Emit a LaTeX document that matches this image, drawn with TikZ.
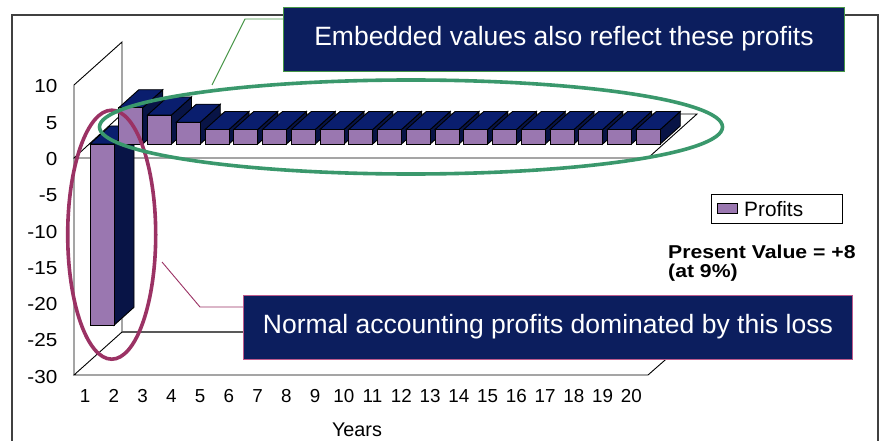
\documentclass[tikz,border=0pt]{standalone}
\usepackage{fontspec}
\setmainfont{Liberation Sans}
\usetikzlibrary{shapes.geometric}

\definecolor{calloutnavy}{RGB}{12,30,94}
\definecolor{barpurple}{RGB}{154,119,176}
\definecolor{bartopnavy}{RGB}{10,30,110}
\definecolor{barsidenavy}{RGB}{8,20,70}
\definecolor{ringgreen}{RGB}{58,152,108}
\definecolor{ringmaroon}{RGB}{155,50,100}
\definecolor{edgegreen}{RGB}{70,150,70}
\definecolor{edgepink}{RGB}{190,90,140}

\tikzset{
  framestyle/.style={draw=black!75, line width=1.5pt},
  wallline/.style={draw=black, line width=0.9pt},
  backline/.style={draw=black!65, line width=1.3pt},
  barfront/.style={fill=barpurple, draw=black, line width=0.9pt},
  bartop/.style={fill=bartopnavy, draw=black, line width=0.9pt},
  barside/.style={fill=barsidenavy, draw=black, line width=0.9pt},
  callout/.style={fill=calloutnavy, text=white, line width=0.9pt, inner sep=0pt,
    text height=38pt, text depth=26pt, anchor=north west,
    font=\fontsize{26.5}{30}\selectfont},
  ring/.style={ellipse, line width=3.6pt, inner sep=0pt},
  leader/.style={line width=0.9pt},
  ticklabel/.style={inner sep=0pt, font=\fontsize{18.8}{21}\selectfont},
}

\begin{document}
\begin{tikzpicture}[x=1pt, y=-1pt]
\useasboundingbox (0,0) rectangle (880,441);
\fill[white] (0,0) rectangle (880,441);

% chart frame (its bottom edge lies below the page)
\draw[framestyle] (12,441) -- (12,15) -- (878,15) -- (878,441);

% left wall of the 3-D plot area
\draw[wallline] (74,375) -- (74,85) -- (122,42) -- (122,332);
% floor
\draw[backline] (122,332) -- (697,332);
\draw[wallline] (122,332) -- (74,375) -- (648,375) -- (697,332);
% zero plane
\draw[wallline] (74,158) -- (648,158) -- (697,114) -- (122,114) -- cycle;

% value axis labels
\foreach \v [count=\k] in {10,5,...,-30}
  \node[ticklabel, anchor=base east] (ylab\k) at (57.5,{165.5-7.25*(\v)})
    {\scalebox{1.1}[1]{\v}};

% year labels
\foreach \i in {1,...,20}
  \node[ticklabel, anchor=base] (xlab\i) at ({85+28.75*(\i-1)},402.5) {\i};
\node[inner sep=0pt, anchor=base, font=\fontsize{19.8}{22}\selectfont] (yearstitle) at (357,436) {Years};

% profit columns
\foreach \i/\v in {1/-25,2/5,3/4,4/3,5/2,6/2,7/2,8/2,9/2,10/2,11/2,12/2,13/2,14/2,15/2,16/2,17/2,18/2,19/2,20/2}{
  \pgfmathsetmacro\bx{90+28.75*(\i-1)}
  \pgfmathsetmacro\yt{min(144,144-7.25*(\v))}
  \pgfmathsetmacro\yb{max(144,144-7.25*(\v))}
  \filldraw[barside] (\bx+24,\yt) -- (\bx+44,\yt-18) -- (\bx+44,\yb-18) -- (\bx+24,\yb) -- cycle;
  \filldraw[bartop] (\bx,\yt) -- (\bx+24,\yt) -- (\bx+44,\yt-18) -- (\bx+20,\yt-18) -- cycle;
  \filldraw[barfront] (\bx,\yt) rectangle (\bx+24,\yb);
}

% legend
\node[draw=black, line width=1pt, minimum width=131pt, minimum height=29pt, inner sep=0pt, anchor=north west] (legend) at (711,194) {};
\node[draw=black, fill=barpurple, line width=0.9pt, minimum width=20pt, minimum height=10pt, inner sep=0pt, anchor=north west] (swatch) at (717,203) {};
\node[inner sep=0pt, anchor=base west, font=\fontsize{20.8}{23}\selectfont] (legtext) at (744,216) {Profits};

% present value note
\node[inner sep=0pt, anchor=base west, font=\bfseries\fontsize{18.6}{20}\selectfont] (pvline) at (668,258) {\scalebox{1.14}[1]{Present Value = +8}};
\node[inner sep=0pt, anchor=base west, font=\bfseries\fontsize{18.6}{20}\selectfont] (rateline) at (668,277) {\scalebox{1.14}[1]{(at 9\%)}};

% highlight rings
\node[ring, draw=ringmaroon, minimum width=88pt, minimum height=249pt] (lossring) at (111.7,234.7) {};
\node[ring, draw=ringgreen, minimum width=623pt, minimum height=94pt] (profitring) at (411,127) {};

% callouts
\node[callout, draw=edgegreen, minimum width=561pt] (embbox) at (283,7) {Embedded values also reflect these profits};
\node[callout, draw=edgepink, minimum width=609pt] (lossbox) at (243,295) {Normal accounting profits dominated by this loss};

% leader lines from the callouts to the rings
\coordinate (gbend) at (245,19);
\coordinate (gtip) at (212,85);
\draw[leader, draw=edgegreen] ([yshift=-12pt]embbox.north west) -- (gbend) -- (gtip);
\coordinate (mbend) at (200,307);
\coordinate (mtip) at (162,262);
\draw[leader, draw=ringmaroon] ([yshift=-12pt]lossbox.north west) -- (mbend) -- (mtip);
\end{tikzpicture}
\end{document}
